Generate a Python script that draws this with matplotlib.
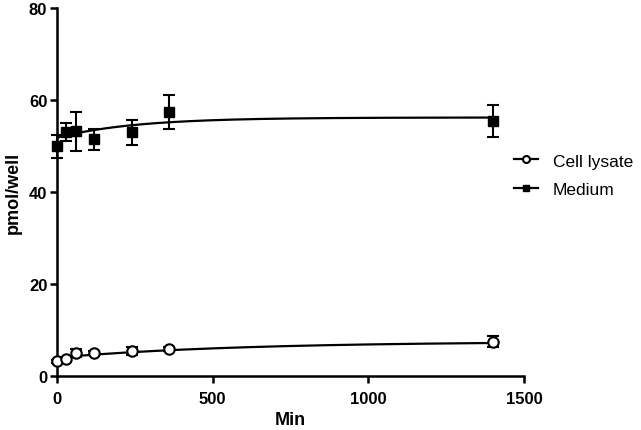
import matplotlib
matplotlib.use("Agg")
import matplotlib.pyplot as plt
from matplotlib.lines import Line2D
import numpy as np

plt.rcParams['font.family'] = ['Liberation Sans', 'DejaVu Sans']

# time points (min)
time = [0, 30, 60, 120, 240, 360, 1400]

lysate = [3.2, 3.7, 5.0, 5.1, 5.4, 5.8, 7.5]
lysate_err = [0.3, 0.3, 0.8, 0.4, 0.8, 0.4, 1.3]

medium = [50.0, 53.0, 53.2, 51.5, 53.0, 57.3, 55.5]
medium_err = [2.5, 2.0, 4.3, 2.3, 2.7, 3.7, 3.5]

# one-phase association fit parameters: (Y0, plateau, k)
lysate_fit = (4.0, 7.5, 0.0017)
medium_fit = (51.8, 56.2, 0.0040)

fig = plt.figure(figsize=(6.41, 4.31), dpi=100)
ax = fig.add_axes([57 / 641, 1 - 377 / 431, (524 - 57) / 641, (377 - 9) / 431])

t = np.linspace(0, 1400, 400)
for (y0, plat, k) in (lysate_fit, medium_fit):
    ax.plot(t, y0 + (plat - y0) * (1 - np.exp(-k * t)), color='black', lw=1.6, zorder=2)

ax.errorbar(time, lysate, yerr=lysate_err, fmt='o', mfc='white', mec='black', mew=1.5,
            ms=7.5, ecolor='black', elinewidth=1.5, capsize=4, capthick=1.5,
            color='black', zorder=3, clip_on=False)
ax.errorbar(time, medium, yerr=medium_err, fmt='s', mfc='black', mec='black',
            ms=7, ecolor='black', elinewidth=1.5, capsize=4, capthick=1.5,
            color='black', zorder=3, clip_on=False)

ax.set_xlim(0, 1500)
ax.set_ylim(0, 80)
ax.set_xticks([0, 500, 1000, 1500])
ax.set_yticks([0, 20, 40, 60, 80])
for s in ['top', 'right']:
    ax.spines[s].set_visible(False)
for s in ['left', 'bottom']:
    ax.spines[s].set_linewidth(1.8)
ax.tick_params(width=1.8, length=5, labelsize=12)
ax.tick_params(axis='x', pad=6)
ax.tick_params(axis='y', pad=2)
for lab in ax.get_xticklabels() + ax.get_yticklabels():
    lab.set_fontweight('bold')
ax.set_xlabel('Min', fontsize=13, fontweight='bold')
ax.set_ylabel('pmol/well', fontsize=13, fontweight='bold')
ax.xaxis.set_label_coords(0.5, -0.095)
ax.yaxis.set_label_coords(-0.075, 0.5)

h = [Line2D([], [], color='black', lw=1.6, marker='o', mfc='white', mec='black', mew=1.5, ms=5),
     Line2D([], [], color='black', lw=1.6, marker='s', mfc='black', mec='black', ms=5)]
ax.legend(h, ['Cell lysate', 'Medium'], loc='upper left', bbox_to_anchor=(0.978, 0.605),
          frameon=False, fontsize=12.5, handlelength=1.4, handletextpad=0.85,
          labelspacing=0.75, borderaxespad=0, borderpad=0)

fig.savefig('out.png', dpi=100)
